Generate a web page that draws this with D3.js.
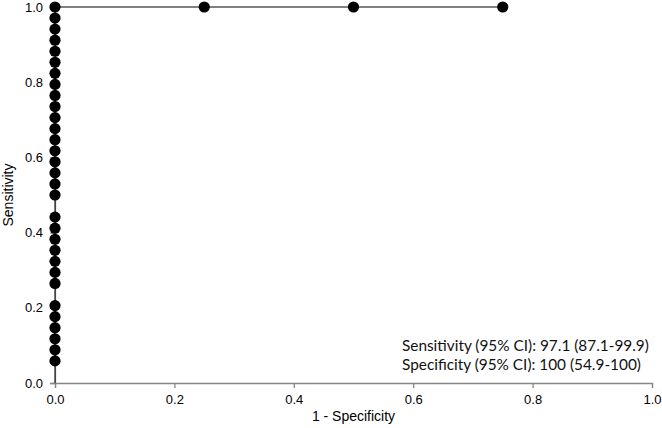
<!DOCTYPE html>
<html>
<head>
<meta charset="utf-8">
<script src="https://cdn.jsdelivr.net/npm/d3@7"></script>
<style>
    body { margin: 0; background: #fff; }
    svg { display: block; }
    .tick text { font-family: "Liberation Sans", Arial, sans-serif; font-size: 13px; fill: #000; }
</style>
</head>
<body>
<svg id="roc-chart"></svg>
<script>
// ROC points: 1 - specificity (fpr) and sensitivity (tpr), 34 positives, 4 negatives
var fpr = [0, 0, 0, 0, 0, 0, 0, 0, 0, 0, 0, 0, 0, 0, 0, 0, 0, 0, 0, 0, 0, 0, 0, 0, 0, 0, 0, 0, 0, 0, 0, 0.25, 0.5, 0.75];
var tprCount = [2, 3, 4, 5, 6, 7, 9, 10, 11, 12, 13, 14, 15, 17, 18, 19, 20, 21, 22, 23, 24, 25, 26, 27, 28, 29, 30, 31, 32, 33, 34, 34, 34, 34];
var positives = 34;
var tickValues = [0, 0.2, 0.4, 0.6, 0.8, 1.0];
var statLines = ["Sensitivity (95% CI): 97.1 (87.1-99.9)", "Specificity (95% CI): 100 (54.9-100)"];

var width = 662,
    height = 428,
    margin = { top: 7, right: 10, bottom: 45, left: 55 };

var points = fpr.map(function (f, i) {
    return { x: f, y: tprCount[i] / positives };
});

var svg = d3.select("#roc-chart")
    .attr("width", width)
    .attr("height", height);

var x = d3.scaleLinear().domain([0, 1]).range([margin.left, 652]);
var y = d3.scaleLinear().domain([0, 1]).range([383, margin.top]);

// Axes
svg.append("g")
    .attr("transform", "translate(0," + y(0) + ")")
    .call(d3.axisBottom(x).tickValues(tickValues).tickFormat(d3.format(".1f")).tickSizeOuter(0).tickSize(5).tickPadding(7));

svg.append("g")
    .attr("transform", "translate(" + x(0) + ",0)")
    .call(d3.axisLeft(y).tickValues(tickValues).tickFormat(d3.format(".1f")).tickSizeOuter(0).tickSize(5).tickPadding(7));

svg.selectAll(".domain, .tick line").attr("stroke", "#868686").attr("stroke-width", 1.3);

// Curve line (starts at origin)
var line = d3.line()
    .x(function (d) { return x(d.x); })
    .y(function (d) { return y(d.y); });

svg.append("path")
    .datum([{ x: 0, y: 0 }].concat(points))
    .attr("d", line)
    .attr("fill", "none")
    .attr("stroke", "#000")
    .attr("stroke-width", 1);

// Markers
svg.selectAll(".pt")
    .data(points)
    .enter().append("circle")
    .attr("class", "pt")
    .attr("cx", function (d) { return x(d.x); })
    .attr("cy", function (d) { return y(d.y); })
    .attr("r", 5.6)
    .attr("fill", "#000");

// Axis titles
svg.append("text")
    .attr("x", (x(0) + x(1)) / 2)
    .attr("y", 421)
    .style("text-anchor", "middle")
    .style("font-family", "Liberation Sans, Arial, sans-serif")
    .style("font-size", "14px")
    .text("1 - Specificity");

svg.append("text")
    .attr("transform", "translate(13," + ((y(0) + y(1)) / 2) + ") rotate(-90)")
    .style("text-anchor", "middle")
    .style("font-family", "Liberation Sans, Arial, sans-serif")
    .style("font-size", "14px")
    .text("Sensitivity");

// Statistics text, sized so the first line spans about 247px
var stats = svg.selectAll(".stat")
    .data(statLines)
    .enter().append("text")
    .attr("class", "stat")
    .attr("x", 402)
    .attr("y", function (d, i) { return 351 + i * 19; })
    .style("font-family", "Lato, 'Open Sans', sans-serif")
    .style("font-size", "16px")
    .style("fill", "#111")
    .text(function (d) { return d; });

var w0 = stats.node().getComputedTextLength();
stats.style("font-size", (16 * 247 / w0) + "px");
</script>
</body>
</html>
